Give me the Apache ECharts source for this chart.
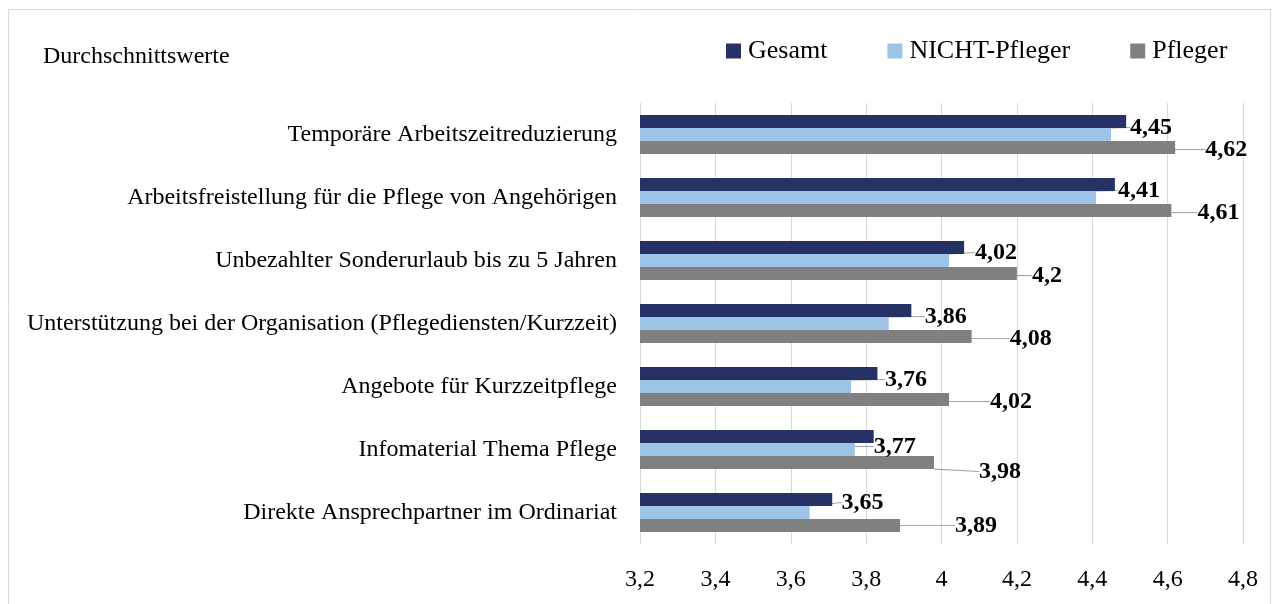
<!DOCTYPE html>
<html>
<head>
<meta charset="UTF-8">
<title>Durchschnittswerte</title>
<script src="https://cdn.jsdelivr.net/npm/echarts@6/dist/echarts.min.js"></script>
<style>
  html, body { margin: 0; padding: 0; background: #fff; }
  #main { width: 1274px; height: 604px; }
</style>
</head>
<body>
<div id="main"></div>
<script>
  // Werte
  var categories = [
    'Temporäre Arbeitszeitreduzierung',
    'Arbeitsfreistellung für die Pflege von Angehörigen',
    'Unbezahlter Sonderurlaub bis zu 5 Jahren',
    'Unterstützung bei der Organisation (Pflegediensten/Kurzzeit)',
    'Angebote für Kurzzeitpflege',
    'Infomaterial Thema Pflege',
    'Direkte Ansprechpartner im Ordinariat'
  ];
  var gesamt = [4.49, 4.46, 4.06, 3.92, 3.83, 3.82, 3.71];
  var nichtPfleger = [4.45, 4.41, 4.02, 3.86, 3.76, 3.77, 3.65];
  var pfleger = [4.62, 4.61, 4.2, 4.08, 4.02, 3.98, 3.89];
  var xTicks = [3.2, 3.4, 3.6, 3.8, 4, 4.2, 4.4, 4.6, 4.8];

  // Verschiebung der Datenbeschriftungen (dx, dy)
  var nichtLabelShift = [[14, -7], [17, -7], [21, -8], [31, -7], [29, -7], [14, -3], [27, -10]];
  var pflegerLabelShift = [[25, 2], [21, 2], [10, 2], [33, 2], [36, 2], [40, 9], [50, 0]];

  var font = '"Liberation Serif", "DejaVu Serif", serif';
  var myChart = echarts.init(document.getElementById('main'));

  function komma(v) {
    return String(+(+v).toFixed(2)).replace('.', ',');
  }

  var labelStyle = {
    show: true,
    position: 'right',
    distance: 5,
    fontFamily: font,
    fontWeight: 'bold',
    fontSize: 24,
    color: '#000',
    formatter: function (p) { return komma(p.value); }
  };

  var option = {
    backgroundColor: '#fff',
    animation: false,
    graphic: [{
      type: 'rect',
      shape: { x: 8.5, y: 9.5, width: 1262, height: 600 },
      style: { fill: 'none', stroke: '#d9d9d9', lineWidth: 1 },
      silent: true
    }],
    title: {
      text: 'Durchschnittswerte',
      left: 38,
      top: 40,
      textStyle: { fontFamily: font, fontWeight: 'normal', fontSize: 24, color: '#000' }
    },
    legend: {
      left: 721,
      top: 33,
      itemWidth: 15,
      itemHeight: 15,
      itemGap: 60,
      icon: 'rect',
      textStyle: { fontFamily: font, fontSize: 26, color: '#000', padding: [0, 0, 0, 2] },
      data: ['Gesamt', 'NICHT-Pfleger', 'Pfleger']
    },
    grid: { left: 640, right: 31, top: 103, bottom: 60, containLabel: false },
    xAxis: {
      type: 'value',
      min: xTicks[0],
      max: xTicks[xTicks.length - 1],
      interval: 0.2,
      axisLine: { show: false },
      axisTick: { show: false },
      splitLine: { show: true, lineStyle: { color: '#d9d9d9', width: 1 } },
      axisLabel: {
        margin: 24,
        fontFamily: font,
        fontSize: 24,
        color: '#000',
        formatter: function (v) { return komma(v); }
      }
    },
    yAxis: {
      type: 'category',
      inverse: true,
      data: categories,
      axisLine: { show: false },
      axisTick: { show: false },
      axisLabel: { margin: 23, fontFamily: font, fontSize: 24, color: '#000' }
    },
    series: [
      {
        name: 'Gesamt',
        type: 'bar',
        data: gesamt,
        barGap: '0%',
        barCategoryGap: '38%',
        itemStyle: { color: '#263166' }
      },
      {
        name: 'NICHT-Pfleger',
        type: 'bar',
        data: nichtPfleger,
        itemStyle: { color: '#9dc3e6' },
        label: labelStyle,
        labelLine: { show: true, lineStyle: { color: '#a6a6a6', width: 1.2 } },
        labelLayout: function (p) {
          var s = nichtLabelShift[p.dataIndex];
          return { dx: s[0], dy: s[1] };
        }
      },
      {
        name: 'Pfleger',
        type: 'bar',
        data: pfleger,
        itemStyle: { color: '#808080' },
        label: labelStyle,
        labelLine: { show: true, lineStyle: { color: '#a6a6a6', width: 1.2 } },
        labelLayout: function (p) {
          var s = pflegerLabelShift[p.dataIndex];
          return { dx: s[0], dy: s[1] };
        }
      }
    ]
  };
  myChart.setOption(option);
</script>
</body>
</html>
